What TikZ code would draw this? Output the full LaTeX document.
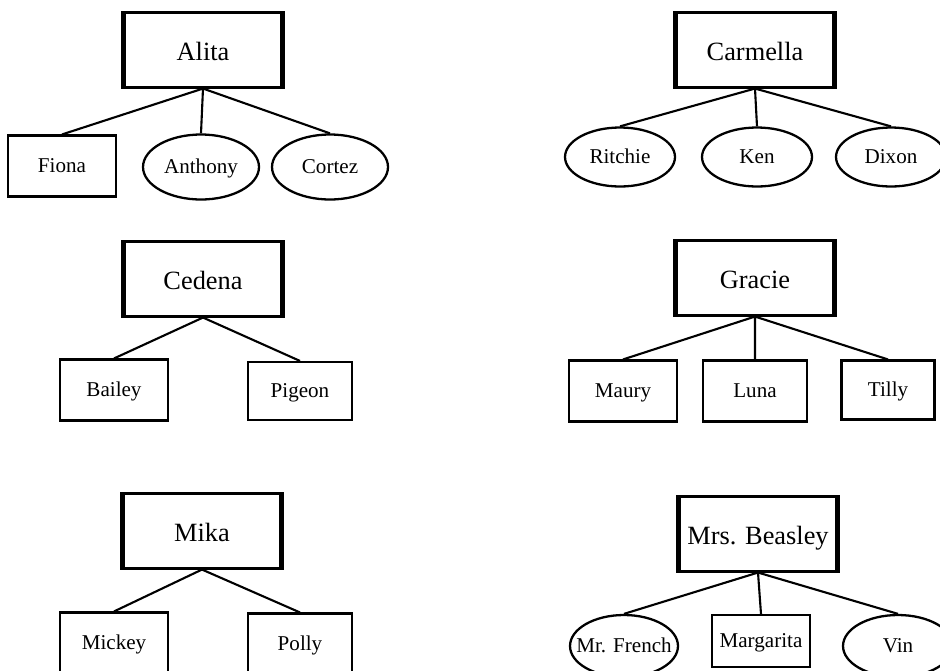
\documentclass[tikz,border=0pt]{standalone}
\usepackage{fontspec}
\setmainfont{Liberation Serif}
\usetikzlibrary{shapes.geometric, positioning}

\tikzset{
parent/.style={rectangle, draw=black, line width=1.2pt, minimum width=3.14cm, minimum height=1.5cm, inner sep=1pt, text height=14pt, text depth=2.6pt, font=\fontsize{15}{18}\selectfont},
kidbox/.style={rectangle, draw=black, line width=1.2pt, minimum width=2.16cm, minimum height=1.22cm, inner sep=1pt, text height=9.6pt, text depth=2pt, font=\fontsize{12}{14}\selectfont},
kidoval/.style={ellipse, draw=black, line width=1.3pt, minimum width=2.2cm, minimum height=1.18cm, inner sep=0pt, text height=9.6pt, text depth=2pt, font=\fontsize{12}{14}\selectfont},
}

\begin{document}
\begin{tikzpicture}[x=0.02cm,y=-0.02cm]
\useasboundingbox (0,0) rectangle (940,670);
% left column
\node[parent] (alita) at (203,50) {Alita};
\node[kidbox] (fiona) at (62,166) {Fiona};
\node[kidoval, minimum width=2.32cm, minimum height=1.3cm] (anthony) at (201,167) {Anthony};
\node[kidoval, minimum width=2.32cm, minimum height=1.3cm] (cortez) at (330,167) {Cortez};
\node[parent] (cedena) at (203,279) {Cedena};
\node[kidbox] (bailey) at (114,390) {Bailey};
\node[kidbox, minimum width=2.08cm, minimum height=1.16cm] (pigeon) at (300,391) {Pigeon};
\node[parent] (mika) at (202,531) {Mika};
\node[kidbox] (mickey) at (114,643) {Mickey};
\node[kidbox, minimum width=2.08cm] (polly) at (300,644) {Polly};
% right column
\node[parent] (carmella) at (755,50) {Carmella};
\node[kidoval] (ritchie) at (620,157) {Ritchie};
\node[kidoval] (ken) at (757,157) {Ken};
\node[kidoval] (dixon) at (891,157) {Dixon};
\node[parent] (gracie) at (755,278) {Gracie};
\node[kidbox] (maury) at (623,391) {Maury};
\node[kidbox, minimum width=2.08cm] (luna) at (755,391) {Luna};
\node[kidbox, minimum width=1.86cm, minimum height=1.18cm] (tilly) at (888,390) {Tilly};
\node[parent] (beasley) at (758,534) {Mrs. Beasley};
\node[kidoval, inner xsep=-5.5pt, minimum width=2.16cm, minimum height=1.24cm] (french) at (624,646) {Mr. French};
\node[kidbox, minimum width=1.96cm, minimum height=1.04cm] (margarita) at (761,641) {Margarita};
\node[kidoval, minimum width=2.2cm, minimum height=1.24cm] (vin) at (898,646) {Vin};
% heavier sides of the parent boxes
\foreach \p in {alita,cedena,mika,carmella,gracie,beasley}
  \draw[line width=2.4pt] (\p.north west) -- (\p.south west) (\p.north east) -- (\p.south east);
% links
\draw[line width=1.2pt] (alita.south) -- (fiona.north) (alita.south) -- (anthony.north) (alita.south) -- (cortez.north);
\draw[line width=1.2pt] (cedena.south) -- (bailey.north) (cedena.south) -- (pigeon.north);
\draw[line width=1.2pt] (mika.south) -- (mickey.north) (mika.south) -- (polly.north);
\draw[line width=1.2pt] (carmella.south) -- (ritchie.north) (carmella.south) -- (ken.north) (carmella.south) -- (dixon.north);
\draw[line width=1.2pt] (gracie.south) -- (maury.north) (gracie.south) -- (luna.north) (gracie.south) -- (tilly.north);
\draw[line width=1.2pt] (beasley.south) -- (french.north) (beasley.south) -- (margarita.north) (beasley.south) -- (vin.north);
\end{tikzpicture}
\end{document}
